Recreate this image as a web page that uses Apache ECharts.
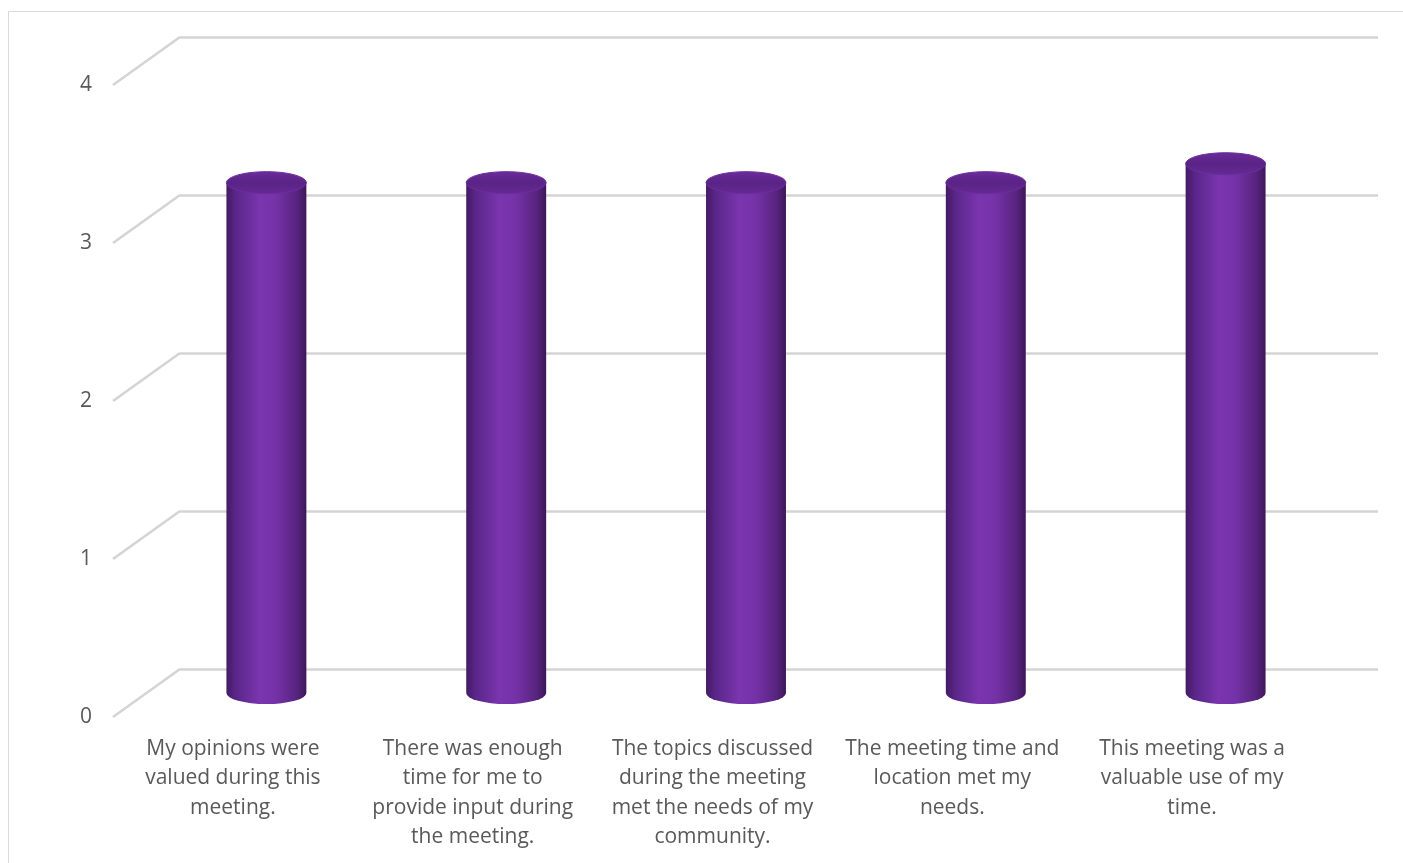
<!DOCTYPE html>
<html>
<head>
<meta charset="utf-8">
<script src="https://cdn.jsdelivr.net/npm/echarts@6/dist/echarts.min.js"></script>
<style>
html,body{margin:0;padding:0;background:#fff;}
#chart{width:1403px;height:863px;}
</style>
</head>
<body>
<div id="chart"></div>
<script>
const categories = [
  "My opinions were\nvalued during this\nmeeting.",
  "There was enough\ntime for me to\nprovide input during\nthe meeting.",
  "The topics discussed\nduring the meeting\nmet the needs of my\ncommunity.",
  "The meeting time and\nlocation met my\nneeds.",
  "This meeting was a\nvaluable use of my\ntime."
];
const values = [3.23, 3.23, 3.23, 3.23, 3.35];
const yTicks = [0, 1, 2, 3, 4];

const FONT = '"Open Sans"';
const DX = 67, DY = 48;

const chart = echarts.init(document.getElementById('chart'));

const bodyGrad = new echarts.graphic.LinearGradient(0, 0, 1, 0, [
  {offset: 0, color: '#441a63'},
  {offset: 0.12, color: '#5a268a'},
  {offset: 0.42, color: '#7a35af'},
  {offset: 0.62, color: '#7532a8'},
  {offset: 0.88, color: '#58247f'},
  {offset: 1, color: '#3f1659'}
]);
const topGrad = new echarts.graphic.LinearGradient(0, 0, 0, 1, [
  {offset: 0, color: '#6a2c9a'},
  {offset: 0.5, color: '#5a2386'},
  {offset: 1, color: '#652a94'}
]);

chart.setOption({
  animation: false,
  backgroundColor: '#ffffff',
  graphic: [{
    type: 'rect', left: 6, top: 9,
    shape: {width: 1396, height: 860},
    style: {fill: 'none', stroke: '#d9d9d9', lineWidth: 1}
  }],
  grid: [
    {left: 180, right: 25, top: 37, bottom: 194},
    {left: 113, right: 91, top: 85, bottom: 146}
  ],
  xAxis: [
    {gridIndex: 0, type: 'category', data: categories, show: false},
    {gridIndex: 1, type: 'category', data: categories,
     axisLine: {show: false}, axisTick: {show: false},
     axisLabel: {interval: 0, margin: 17, color: '#595959', fontFamily: FONT, fontSize: 21, lineHeight: 29.5, align: 'center'}}
  ],
  yAxis: [
    {gridIndex: 0, type: 'value', min: 0, max: 4, interval: 1,
     axisLabel: {show: false}, axisLine: {show: false}, axisTick: {show: false},
     splitLine: {show: true, lineStyle: {color: '#d4d4d4', width: 2.5}}},
    {gridIndex: 1, type: 'value', min: 0, max: 4, interval: 1,
     axisLine: {show: false}, axisTick: {show: false}, splitLine: {show: false},
     axisLabel: {margin: 21, color: '#595959', fontFamily: FONT, fontSize: 21}}
  ],
  series: [
    {
      type: 'custom', xAxisIndex: 1, yAxisIndex: 1, silent: true,
      data: yTicks.map(v => [0, v]),
      renderItem: function (params, api) {
        const p = api.coord([0, api.value(1)]);
        const x0 = params.coordSys.x;
        return {
          type: 'line',
          shape: {x1: x0, y1: p[1], x2: x0 + DX, y2: p[1] - DY},
          style: {stroke: '#d4d4d4', lineWidth: 2.5}
        };
      }
    },
    {
      type: 'custom', xAxisIndex: 1, yAxisIndex: 1, silent: true,
      data: values.map((v, i) => [i, v]),
      renderItem: function (params, api) {
        const top = api.coord([api.value(0), api.value(1)]);
        const base = api.coord([api.value(0), 0]);
        const band = api.size([1, 0])[0];
        const r = band / 6;
        const ry = 11;
        const cx = top[0] + DX / 2;
        const yt = top[1] - DY / 2;
        const yb = base[1] - DY / 2;
        const bodyPath = 'M' + (cx - r) + ' ' + yt + ' L' + (cx - r) + ' ' + yb +
          ' A' + r + ' ' + ry + ' 0 0 0 ' + (cx + r) + ' ' + yb +
          ' L' + (cx + r) + ' ' + yt + ' Z';
        const topPath = 'M' + (cx - r) + ' ' + yt +
          ' A' + r + ' ' + ry + ' 0 0 1 ' + (cx + r) + ' ' + yt +
          ' A' + r + ' ' + ry + ' 0 0 1 ' + (cx - r) + ' ' + yt + ' Z';
        return {
          type: 'group',
          children: [
            {type: 'path', shape: {pathData: bodyPath, x: cx - r, y: yt, width: 2 * r, height: yb - yt + ry},
             style: {fill: bodyGrad}},
            {type: 'path', shape: {pathData: topPath, x: cx - r, y: yt - ry, width: 2 * r, height: 2 * ry},
             style: {fill: topGrad, stroke: '#6b2d9c', lineWidth: 1}}
          ]
        };
      }
    }
  ]
});
</script>
</body>
</html>
